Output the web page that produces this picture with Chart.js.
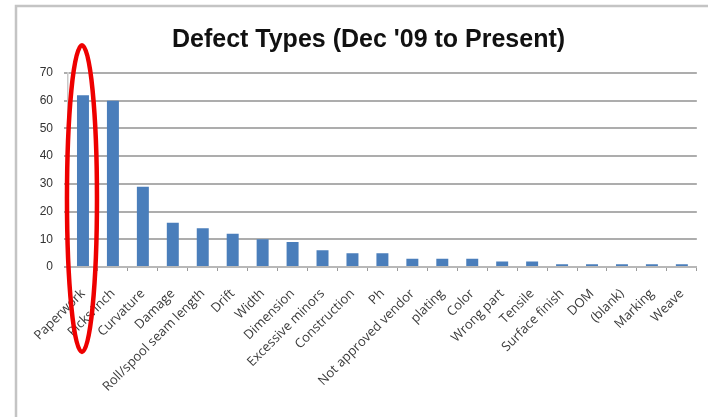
<!DOCTYPE html>
<html>
<head>
<meta charset="utf-8">
<script src="https://cdn.jsdelivr.net/npm/chart.js@4/dist/chart.umd.min.js"></script>
<style>
  html, body { margin: 0; padding: 0; background: #fff; }
  #wrap { position: relative; width: 708px; height: 417px; }
</style>
</head>
<body>
<div id="wrap"><canvas id="chart" width="708" height="417"></canvas></div>
<script>
// Defect categories and their counts since December 2009
const categories = [
  'Paperwork', 'Picks/inch', 'Curvature', 'Damage', 'Roll/spool seam length',
  'Drift', 'Width', 'Dimension', 'Excessive minors', 'Construction', 'Ph',
  'Not approved vendor', 'plating', 'Color', 'Wrong part', 'Tensile',
  'Surface finish', 'DOM', '(blank)', 'Marking', 'Weave'
];
const counts = [62, 60, 29, 16, 14, 12, 10, 9, 6, 5, 5, 3, 3, 3, 2, 2, 1, 1, 1, 1, 1];
const yMin = 0;
const yMax = 70;
const yStep = 10;

// Index of the category that gets the red call-out ring
const highlightIndex = 0;

// Light gray frame around the chart (open toward the bottom and right)
const framePlugin = {
  id: 'frame',
  beforeDraw(chart) {
    const ctx = chart.ctx;
    ctx.save();
    ctx.fillStyle = '#ffffff';
    ctx.fillRect(0, 0, chart.width, chart.height);
    ctx.strokeStyle = '#c4c4c4';
    ctx.lineWidth = 2.5;
    ctx.beginPath();
    ctx.moveTo(16, chart.height + 5);
    ctx.lineTo(16, 6);
    ctx.lineTo(chart.width + 5, 6);
    ctx.stroke();
    ctx.restore();
  }
};

// Red call-out ring around the highlighted bar
const ringPlugin = {
  id: 'ring',
  afterDraw(chart) {
    const x = chart.scales.x;
    const y = chart.scales.y;
    const cx = x.getPixelForValue(highlightIndex);
    const top = y.getPixelForValue(80);
    const bottom = chart.chartArea.bottom + 85;
    const cy = (top + bottom) / 2;
    const ry = (bottom - top) / 2;
    const ctx = chart.ctx;
    ctx.save();
    ctx.strokeStyle = '#ee0000';
    ctx.lineWidth = 4.5;
    ctx.beginPath();
    ctx.ellipse(cx - 1, cy, 15, ry, 0, 0, Math.PI * 2);
    ctx.stroke();
    ctx.restore();
  }
};

new Chart(document.getElementById('chart'), {
  type: 'bar',
  data: {
    labels: categories,
    datasets: [{
      data: counts,
      backgroundColor: '#4a7ebb',
      borderWidth: 0,
      barPercentage: 0.8,
      categoryPercentage: 0.5
    }]
  },
  options: {
    responsive: false,
    animation: false,
    devicePixelRatio: 1,
    layout: { padding: { left: 34, right: 5, top: 0, bottom: 0 } },
    plugins: {
      legend: { display: false },
      tooltip: { enabled: false },
      title: {
        display: true,
        text: "Defect Types (Dec '09 to Present)",
        color: '#111',
        font: { family: "'Liberation Sans', Arial, sans-serif", size: 25, weight: 'bold' },
        padding: { top: 25, bottom: 18 }
      }
    },
    scales: {
      x: {
        offset: true,
        grid: {
          offset: true,
          drawOnChartArea: false,
          drawTicks: true,
          tickLength: 4,
          color: '#9a9a9a',
          lineWidth: 1
        },
        border: { color: '#b8b8b8', width: 2 },
        ticks: {
          autoSkip: false,
          maxRotation: 45,
          minRotation: 45,
          padding: 15,
          color: '#3a3a3a',
          font: { family: "'Open Sans', 'DejaVu Sans', sans-serif", size: 13 }
        },
        afterFit(scale) { scale.height = 150; }
      },
      y: {
        min: yMin,
        max: yMax,
        ticks: {
          stepSize: yStep,
          padding: 11,
          color: '#333',
          font: { family: "'Liberation Sans', Arial, sans-serif", size: 12 }
        },
        grid: {
          color: '#adadad',
          lineWidth: 2,
          drawTicks: true,
          tickLength: 4
        },
        border: { color: '#c8c8c8', width: 1.5 },
        afterFit(scale) { scale.width = 34; }
      }
    }
  },
  plugins: [framePlugin, ringPlugin]
});
</script>
</body>
</html>
